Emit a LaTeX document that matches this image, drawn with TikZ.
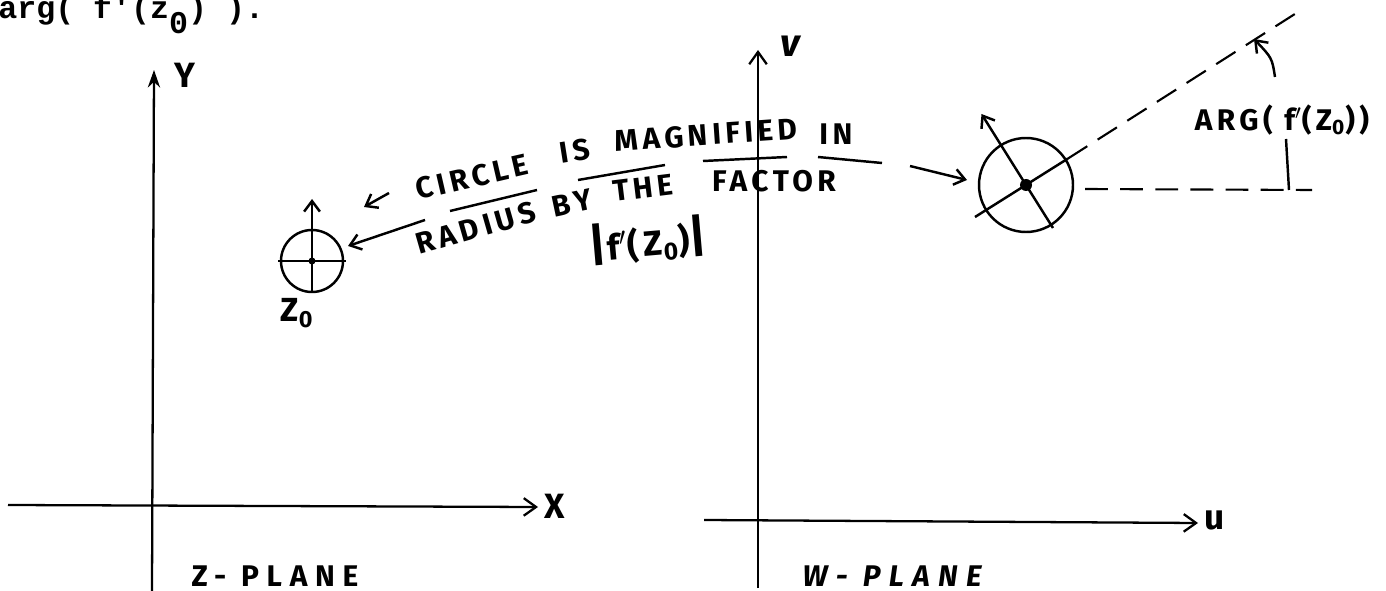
\documentclass[tikz,border=0pt]{standalone}
\usepackage{fontspec}
\setmonofont{Liberation Mono}
\newfontfamily\handfont[LetterSpace=15]{Fira Sans}
\usetikzlibrary{arrows.meta,positioning,calc}

\begin{document}
\begin{tikzpicture}[x=0.02cm, y=-0.02cm,
    axis/.style={line width=1.3pt, -{Straight Barb[length=7pt, width=10pt, line width=1.3pt]}},
    pointer/.style={line width=1.4pt, -{Straight Barb[length=6pt, width=9pt, line width=1.4pt]}},
    stroke/.style={line width=1.4pt},
    guide/.style={line width=1.2pt, dash pattern=on 13pt off 7pt},
    hand/.style={font=\handfont\bfseries\fontsize{17}{19}\selectfont, inner sep=0pt},
    planename/.style={hand, font=\handfont\bfseries\fontsize{17}{19}\selectfont\addfontfeature{LetterSpace=26}},
    typed/.style={font=\ttfamily\bfseries\fontsize{18}{18}\selectfont, inner sep=0pt, anchor=base west}
  ]
  \useasboundingbox (0,0) rectangle (1386,591);

  \node[typed] (typedline) at (-2,19) {arg(\ f'(z\raisebox{-8pt}{0})\ ).};

  % z-plane
  \coordinate (ybottom) at (152,591);
  \coordinate (ytop) at (154,70);
  \coordinate (xleft) at (8,505);
  \coordinate (xright) at (538,507);
  \draw[line width=1.3pt, -{Stealth[length=10pt, width=7pt]}] (ybottom) -- (ytop);
  \draw[axis] (xleft) -- (xright);
  \node[hand, font=\handfont\bfseries\fontsize{20}{20}\selectfont] (ylabel) at (185,75) {Y};
  \node[hand, font=\handfont\bfseries\fontsize{20}{20}\selectfont] (xlabel) at (555,506) {X};
  \node[planename] (zplane) at (275,576) {Z- PLANE};

  \coordinate (zpt) at (312,261);
  \draw[stroke] (zpt) circle[radius=31];
  \draw[stroke] ($(zpt)+(-34,0)$) -- ($(zpt)+(34,0)$);
  \draw[stroke] ($(zpt)+(0,31)$) -- (zpt);
  \draw[pointer] (zpt) -- ($(zpt)+(0,-62)$);
  \fill (zpt) circle[radius=3.5];
  \node[hand, font=\handfont\bfseries\fontsize{19}{19}\selectfont] (zlabel) at (297,313) {Z\textsubscript{0}};

  % the note between the planes
  \node[hand, rotate=13] (wcircle) at (472,177) {CIRCLE};
  \node[hand, rotate=9] (wis) at (575,151) {IS};
  \node[hand, rotate=4] (wmagnified) at (706,135) {MAGNIFIED};
  \node[hand] (win) at (836,134) {IN};
  \node[hand, rotate=16] (wradius) at (476,228) {RADIUS};
  \node[hand, rotate=12] (wby) at (572,203) {BY};
  \node[hand, rotate=7] (wthe) at (643,188) {THE};
  \node[hand] (wfactor) at (774,181) {FACTOR};
  \node[hand, rotate=5, font=\handfont\bfseries\fontsize{20}{22}\selectfont] (wmodulus) at (648,241) {{\fontsize{26}{26}\selectfont|}f$'$(Z\textsubscript{0}){\fontsize{26}{26}\selectfont|}};

  \draw[stroke] (450,211) -- (537,190);
  \draw[stroke] (578,180) -- (665,165);
  \draw[stroke] (703,161) -- (787,157);
  \draw[stroke] (818,157) -- (882,163);

  \coordinate (smalltail) at (389,193);
  \coordinate (smalltip) at (364,207);
  \coordinate (longtail) at (425,220);
  \coordinate (longtip) at (348,246);
  \coordinate (righttail) at (910,166);
  \coordinate (righttip) at (967,180);
  \draw[pointer] (smalltail) -- (smalltip);
  \draw[pointer] (longtail) -- (longtip);
  \draw[pointer] (righttail) -- (righttip);

  % w-plane
  \coordinate (vbottom) at (758,588);
  \coordinate (vtop) at (758,50);
  \coordinate (uleft) at (704,520);
  \coordinate (uright) at (1198,523);
  \draw[axis] (vbottom) -- (vtop);
  \draw[axis] (uleft) -- (uright);
  \node[hand, font=\handfont\bfseries\itshape\fontsize{22}{22}\selectfont] (vlabel) at (790,46) {v};
  \node[hand, font=\handfont\bfseries\fontsize{20}{20}\selectfont] (ulabel) at (1215,520) {u};
  \node[planename, font=\handfont\bfseries\itshape\fontsize{17}{19}\selectfont\addfontfeature{LetterSpace=28}] (wplane) at (892,576) {W- PLANE};

  \coordinate (wpt) at (1026,185);
  \coordinate (rayend) at (1298,12);
  \coordinate (flatend) at (1312,190);
  \draw[stroke] (wpt) circle[radius=47];
  \draw[stroke] ($(wpt)+(-51,32)$) -- ($(wpt)+(42,-26.5)$);
  \draw[stroke] ($(wpt)+(27,43)$) -- (wpt);
  \draw[pointer] (wpt) -- ($(wpt)+(-44.5,-71)$);
  \fill (wpt) circle[radius=6];
  \draw[guide] ($(wpt)+(42,-26.5)$) -- (rayend);
  \draw[guide] ($(wpt)+(59,4)$) -- (flatend);

  \coordinate (ticktop) at (1286,139);
  \coordinate (tickfoot) at (1289,190);
  \coordinate (angletail) at (1275,77);
  \coordinate (angletip) at (1254,39);
  \draw[stroke] (ticktop) -- (tickfoot);
  \draw[pointer] (angletail) .. controls (1272,58) .. (angletip);
  \node[hand] (arglabel) at (1282,120) {ARG( f$'$(Z\textsubscript{0}))};
\end{tikzpicture}
\end{document}
